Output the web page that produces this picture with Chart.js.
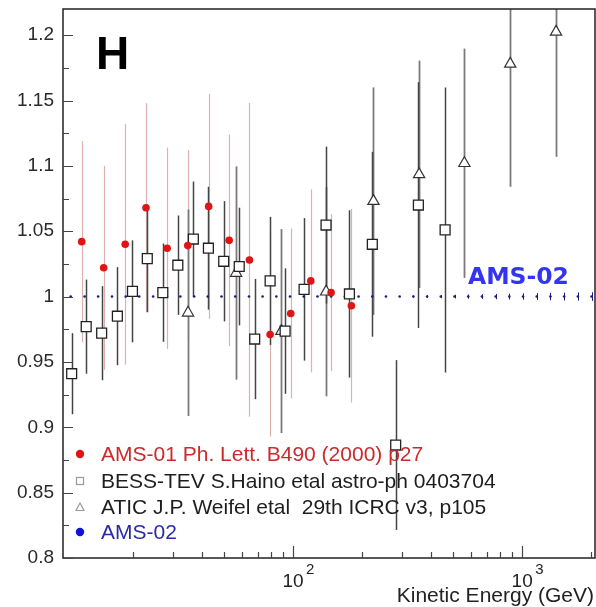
<!DOCTYPE html>
<html>
<head>
<meta charset="utf-8">
<script src="https://cdn.jsdelivr.net/npm/chart.js@4/dist/chart.umd.min.js"></script>
<style>
  html, body { margin: 0; padding: 0; background: #ffffff; }
  #wrap { width: 596px; height: 607px; }
</style>
</head>
<body>
<div id="wrap"><canvas id="c" width="596" height="607"></canvas></div>
<script>
// Hydrogen ratio measurements versus kinetic energy (GeV)

// AMS-01 Ph. Lett. B490 (2000) p27
const ams01E   = [11.95, 14.9, 18.5, 22.8, 28.2, 34.7, 42.8, 52.6, 64.5, 79.4, 97.7, 119.5, 146.5, 179.7];
const ams01R   = [1.042, 1.022, 1.040, 1.068, 1.037, 1.039, 1.069, 1.043, 1.028, 0.971, 0.987, 1.012, 1.003, 0.993];
const ams01Err = [0.077, 0.078, 0.092, 0.080, 0.077, 0.073, 0.086, 0.081, 0.120, 0.078, 0.065, 0.070, 0.060, 0.074];

// BESS-TEV S.Haino etal astro-ph 0403704
const bessE   = [10.8, 12.5, 14.6, 17.1, 19.9, 23.1, 27.0, 31.4, 36.7, 42.7, 49.8, 58.2, 68.0, 79.4, 92.3, 111.7, 139.3, 176.2, 221.8, 280.5, 352.4, 461];
const bessR   = [0.941, 0.977, 0.972, 0.985, 1.004, 1.029, 1.003, 1.024, 1.044, 1.037, 1.027, 1.023, 0.9675, 1.012, 0.9736, 1.0055, 1.0547, 1.002, 1.040, 0.8864, 1.070, 1.051];
const bessErr = [0.031, 0.036, 0.036, 0.0375, 0.039, 0.041, 0.0376, 0.038, 0.044, 0.047, 0.046, 0.045, 0.046, 0.049, 0.048, 0.0545, 0.060, 0.064, 0.0707, 0.065, 0.094, 0.109];

// ATIC J.P. Weifel etal 29th ICRC v3, p105
const aticE   = [34.8, 56.4, 88.9, 139.4, 224.4, 355, 559.6, 887, 1406];
const aticR   = [0.9876, 1.018, 0.9736, 1.0037, 1.073, 1.0935, 1.102, 1.178, 1.2025];
const aticErr = [0.079, 0.0816, 0.078, 0.080, 0.087, 0.087, 0.0877, 0.094, 0.0956];

// AMS-02 projected sensitivity
const ams02E   = [10.7, 12.3, 14.1, 16.2, 18.6, 21.3, 24.5, 28.1, 32.2, 37.0, 42.4, 48.7, 55.9, 64.2, 73.6, 84.5, 97.0,
                  111.3, 127.8, 146.6, 168.3, 193.2, 221.7, 254.4, 292.0, 335.1, 384.6, 441.5, 506.7, 581.6, 667.4, 766.1,
                  879.0, 1009, 1158, 1329, 1525, 1751, 2009];
const ams02R   = [1, 1, 1, 1, 1, 1, 1, 1, 1, 1, 1, 1, 1, 1, 1, 1, 1, 1, 1, 1, 1, 1, 1, 1, 1, 1, 1, 1, 1, 1, 1, 1, 1, 1, 1, 1, 1, 1, 1];
const ams02Err = [0, 0, 0, 0, 0, 0, 0, 0, 0, 0, 0, 0, 0, 0, 0, 0, 0, 0, 0, 0, 0, 0, 0, 0, 0, 0.0008, 0.001, 0.0012,
                  0.0014, 0.0016, 0.0018, 0.002, 0.0022, 0.0024, 0.0026, 0.0028, 0.003, 0.0031, 0.0033];

// Axis ticks
const yMajorTicks = [0.8, 0.85, 0.9, 0.95, 1.0, 1.05, 1.1, 1.15, 1.2];
const yMinorTicks = [0.825, 0.875, 0.925, 0.975, 1.025, 1.075, 1.125, 1.175];
const xMajorTicks = [100, 1000];
const xMajorExp   = ['2', '3'];
const xMinorTicks = [20, 30, 40, 50, 60, 70, 80, 90, 200, 300, 400, 500, 600, 700, 800, 900, 2000];

const legendLabels = [
  'AMS-01 Ph. Lett. B490 (2000) p27',
  'BESS-TEV S.Haino etal astro-ph 0403704',
  'ATIC J.P. Weifel etal  29th ICRC v3, p105',
  'AMS-02'
];

const SANS = '"Liberation Sans", Arial, Helvetica, sans-serif';
const RED = '#e01414';
const pts = (xs, ys) => xs.map((v, i) => ({ x: v, y: ys[i] }));

function drawErrorBars(chart, xs, ys, errs, color, width) {
  const ctx = chart.ctx, sx = chart.scales.x, sy = chart.scales.y;
  ctx.strokeStyle = color;
  ctx.lineWidth = width;
  xs.forEach((e, i) => {
    if (!errs[i]) return;
    const px = Math.round(sx.getPixelForValue(e)) + 0.5;
    ctx.beginPath();
    ctx.moveTo(px, sy.getPixelForValue(ys[i] + errs[i]));
    ctx.lineTo(px, sy.getPixelForValue(ys[i] - errs[i]));
    ctx.stroke();
  });
}

const decor = {
  id: 'decor',
  beforeDatasetsDraw(chart) {
    const { ctx, chartArea: a } = chart;
    ctx.save();
    ctx.beginPath();
    ctx.rect(a.left, a.top, a.right - a.left, a.bottom - a.top);
    ctx.clip();
    drawErrorBars(chart, ams01E, ams01R, ams01Err, '#dcb2ac', 1.2);
    drawErrorBars(chart, aticE, aticR, aticErr, '#7a7a7a', 1.8);
    drawErrorBars(chart, bessE, bessR, bessErr, '#444444', 1.5);
    drawErrorBars(chart, ams02E, ams02R, ams02Err, '#1c1c7a', 1);
    ctx.restore();
  },
  afterDatasetsDraw(chart) {
    const { ctx, chartArea: a, scales: { x, y } } = chart;
    ctx.save();

    // frame
    ctx.strokeStyle = '#222';
    ctx.lineWidth = 1.5;
    ctx.strokeRect(a.left, a.top, a.right - a.left, a.bottom - a.top);

    // inward tick marks
    ctx.lineWidth = 1.2;
    ctx.strokeStyle = '#444';
    ctx.beginPath();
    yMajorTicks.forEach(v => { const py = Math.round(y.getPixelForValue(v)) + 0.5; ctx.moveTo(a.left, py); ctx.lineTo(a.left + 10, py); });
    yMinorTicks.forEach(v => { const py = Math.round(y.getPixelForValue(v)) + 0.5; ctx.moveTo(a.left, py); ctx.lineTo(a.left + 6, py); });
    xMajorTicks.forEach(v => { const px = Math.round(x.getPixelForValue(v)) + 0.5; ctx.moveTo(px, a.bottom); ctx.lineTo(px, a.bottom - 12); });
    xMinorTicks.forEach(v => { const px = Math.round(x.getPixelForValue(v)) + 0.5; ctx.moveTo(px, a.bottom); ctx.lineTo(px, a.bottom - 6); });
    ctx.stroke();

    // x tick labels as powers of ten
    ctx.fillStyle = '#222';
    ctx.textBaseline = 'alphabetic';
    xMajorTicks.forEach((v, i) => {
      const px = x.getPixelForValue(v);
      ctx.font = '19px ' + SANS;
      ctx.textAlign = 'center';
      ctx.fillText('10', px, a.bottom + 29);
      ctx.font = '15px ' + SANS;
      ctx.textAlign = 'left';
      ctx.fillText(xMajorExp[i], px + 13, a.bottom + 16);
    });

    // axis title
    ctx.font = '21px ' + SANS;
    ctx.textAlign = 'right';
    ctx.fillText('Kinetic Energy (GeV)', a.right - 1, a.bottom + 44);

    // panel letter
    ctx.font = 'bold 46px ' + SANS;
    ctx.textAlign = 'left';
    ctx.fillStyle = '#000';
    ctx.fillText('H', 96, 69);

    // AMS-02 tag
    ctx.font = 'bold 23.5px "DejaVu Sans", Verdana, sans-serif';
    ctx.fillStyle = '#3434f4';
    ctx.fillText('AMS-02', 468, 284);

    // legend
    const lx = 80, tx = 101;
    const rows = [454, 481, 507, 532];
    ctx.textBaseline = 'middle';
    ctx.font = '21px ' + SANS;
    // red dot
    ctx.fillStyle = RED;
    ctx.beginPath(); ctx.arc(lx, rows[0], 4.2, 0, Math.PI * 2); ctx.fill();
    ctx.fillStyle = '#cc2a2a';
    ctx.fillText(legendLabels[0], tx, rows[0] + 1);
    // open square
    ctx.strokeStyle = '#9a9a9a'; ctx.lineWidth = 1.2;
    ctx.strokeRect(lx - 3.5, rows[1] - 3.5, 7, 7);
    ctx.fillStyle = '#1e1e1e';
    ctx.fillText(legendLabels[1], tx, rows[1] + 1);
    // open triangle
    ctx.beginPath();
    ctx.moveTo(lx, rows[2] - 4); ctx.lineTo(lx + 4, rows[2] + 3.5); ctx.lineTo(lx - 4, rows[2] + 3.5); ctx.closePath();
    ctx.stroke();
    ctx.fillText(legendLabels[2], tx, rows[2] + 1);
    // blue dot
    ctx.fillStyle = '#1010d8';
    ctx.beginPath(); ctx.arc(lx, rows[3], 4.2, 0, Math.PI * 2); ctx.fill();
    ctx.fillStyle = '#2a2aa6';
    ctx.fillText(legendLabels[3], tx, rows[3] + 1);

    ctx.restore();
  }
};

new Chart(document.getElementById('c'), {
  type: 'scatter',
  data: {
    datasets: [
      { label: legendLabels[0], data: pts(ams01E, ams01R), pointStyle: 'circle', pointRadius: 3.8,
        backgroundColor: RED, borderWidth: 0 },
      { label: legendLabels[1], data: pts(bessE, bessR), pointStyle: 'rect', pointRadius: 7,
        backgroundColor: '#ffffff', borderColor: '#222222', borderWidth: 1.3 },
      { label: legendLabels[2], data: pts(aticE, aticR), pointStyle: 'triangle', pointRadius: 6.5,
        backgroundColor: '#ffffff', borderColor: '#333333', borderWidth: 1.2 },
      { label: legendLabels[3], data: pts(ams02E, ams02R), pointStyle: 'circle', pointRadius: 1.3,
        backgroundColor: '#1c1c7a', borderWidth: 0 }
    ]
  },
  options: {
    responsive: false,
    animation: false,
    devicePixelRatio: 1,
    layout: { autoPadding: false, padding: { top: 9, right: 1, left: 0, bottom: 0 } },
    plugins: { legend: { display: false }, tooltip: { enabled: false } },
    scales: {
      x: {
        type: 'logarithmic',
        min: 9.9, max: 2080,
        grid: { display: false, drawTicks: false },
        border: { display: false },
        ticks: { display: false },
        afterFit: s => { s.height = 49; s.paddingLeft = 0; s.paddingRight = 0; }
      },
      y: {
        type: 'linear',
        min: 0.8, max: 1.22,
        grid: { display: false, drawTicks: false },
        border: { display: false },
        afterBuildTicks: s => { s.ticks = yMajorTicks.map(v => ({ value: v })); },
        ticks: {
          padding: 9,
          color: '#2a2a2a',
          font: { family: SANS, size: 19 },
          callback: v => String(+(+v).toFixed(2))
        },
        afterFit: s => { s.width = 63; s.paddingTop = 0; s.paddingBottom = 0; }
      }
    }
  },
  plugins: [decor]
});
</script>
</body>
</html>
